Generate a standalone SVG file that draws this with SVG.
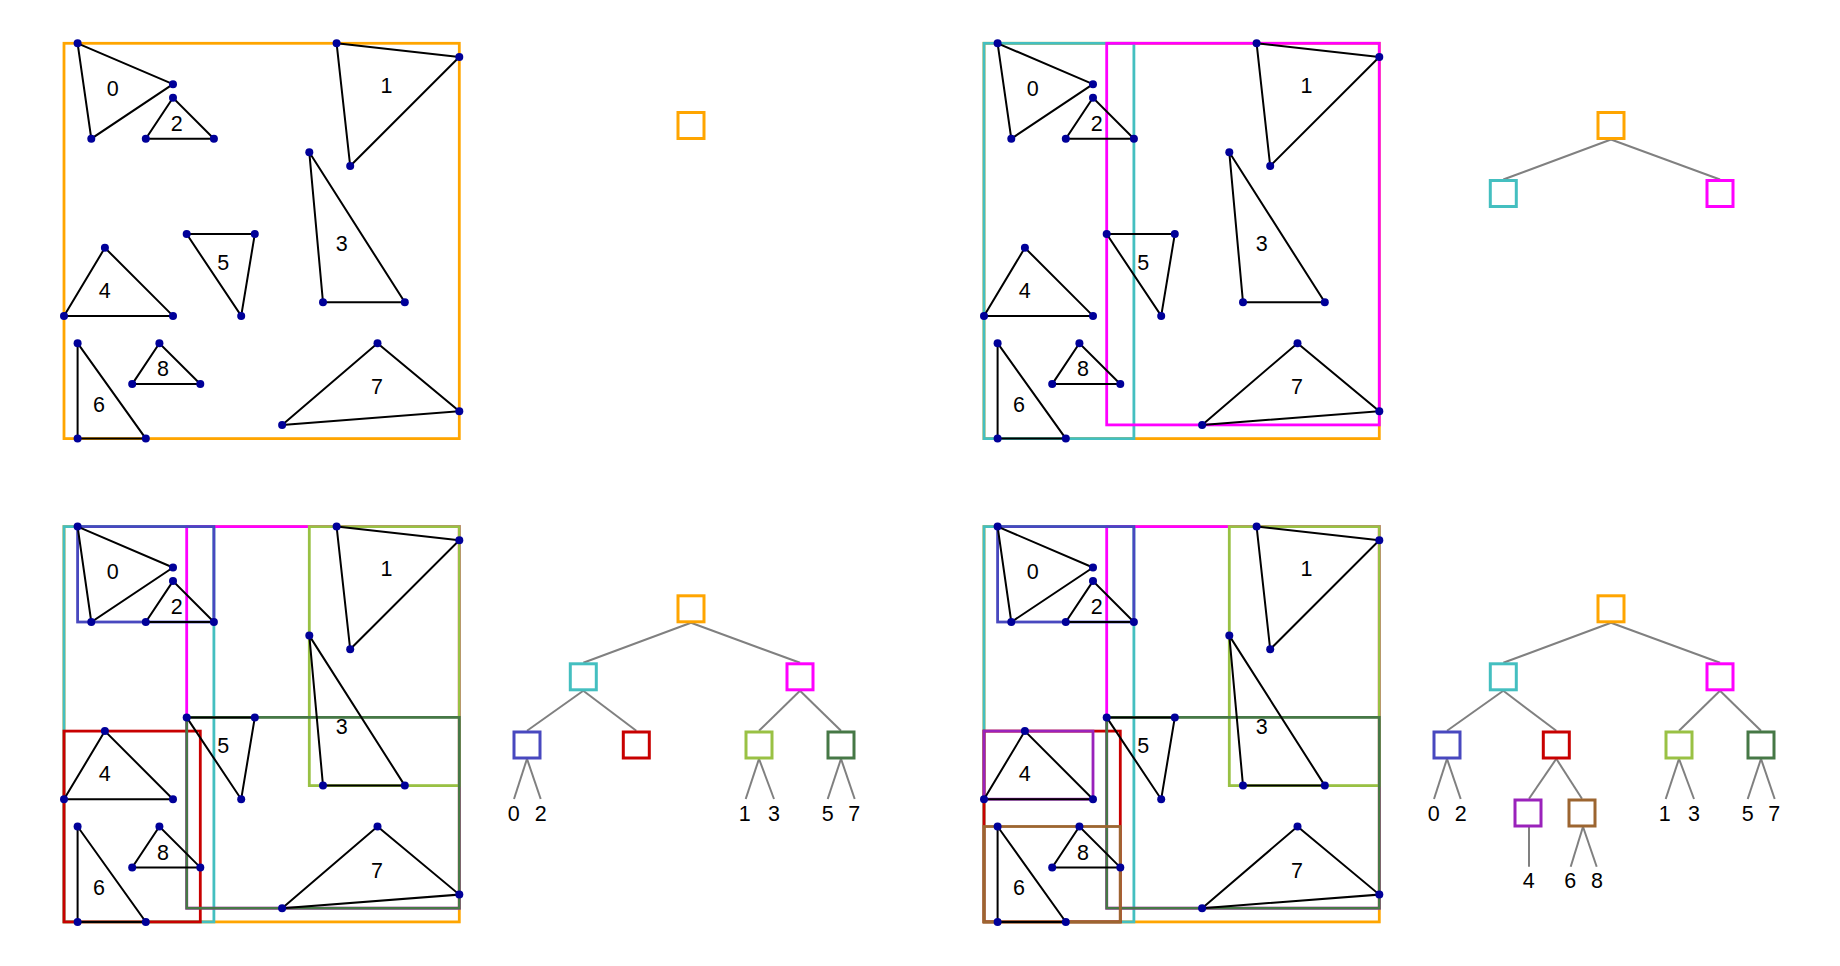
<svg xmlns="http://www.w3.org/2000/svg" width="1840" height="966" viewBox="0 0 1840 966">
<style>
.bx{fill:none;stroke-width:2.8}
.tri{fill:none;stroke:#000;stroke-width:2}
.dot{fill:#000099}
.lbl{font-family:"Liberation Sans",Arial,sans-serif;font-size:21.5px;fill:#000;text-anchor:middle}
.edge{stroke:#808080;stroke-width:2;fill:none}
.nd{fill:#fff;stroke-width:3}
.c-or{stroke:#FFA500}.c-cy{stroke:#44BFC0}.c-mg{stroke:#FF00FF}.c-bl{stroke:#4848BF}.c-rd{stroke:#C80000}.c-lg{stroke:#99C144}.c-dg{stroke:#467846}.c-pu{stroke:#9A22BB}.c-br{stroke:#9C6530}
</style>
<rect x="0" y="0" width="1840" height="966" fill="#fff"/>

<!-- ============ PANEL 1 (top-left) ============ -->
<g id="panel1">
<g id="p1-boxes">
<rect class="bx c-or" x="64" y="43.3" width="395.3" height="395.3"/>
</g>
<g id="p1-shapes">
<polygon class="tri" points="77.6,43.3 173,84.2 91.3,138.7"/>
<polygon class="tri" points="336.6,43.3 459.3,56.9 350.2,166"/>
<polygon class="tri" points="173,97.8 145.8,138.7 213.9,138.7"/>
<polygon class="tri" points="309.3,152.3 323,302.3 404.8,302.3"/>
<polygon class="tri" points="104.9,247.8 64,315.9 173,315.9"/>
<polygon class="tri" points="186.7,234.1 254.8,234.1 241.2,315.9"/>
<polygon class="tri" points="77.6,343.2 77.6,438.6 145.8,438.6"/>
<polygon class="tri" points="377.5,343.2 459.3,411.3 282.1,424.9"/>
<polygon class="tri" points="159.4,343.2 132.2,384.1 200.3,384.1"/>
<circle class="dot" cx="77.6" cy="43.3" r="4"/><circle class="dot" cx="173" cy="84.2" r="4"/><circle class="dot" cx="91.3" cy="138.7" r="4"/>
<circle class="dot" cx="336.6" cy="43.3" r="4"/><circle class="dot" cx="459.3" cy="56.9" r="4"/><circle class="dot" cx="350.2" cy="166" r="4"/>
<circle class="dot" cx="173" cy="97.8" r="4"/><circle class="dot" cx="145.8" cy="138.7" r="4"/><circle class="dot" cx="213.9" cy="138.7" r="4"/>
<circle class="dot" cx="309.3" cy="152.3" r="4"/><circle class="dot" cx="323" cy="302.3" r="4"/><circle class="dot" cx="404.8" cy="302.3" r="4"/>
<circle class="dot" cx="104.9" cy="247.8" r="4"/><circle class="dot" cx="64" cy="315.9" r="4"/><circle class="dot" cx="173" cy="315.9" r="4"/>
<circle class="dot" cx="186.7" cy="234.1" r="4"/><circle class="dot" cx="254.8" cy="234.1" r="4"/><circle class="dot" cx="241.2" cy="315.9" r="4"/>
<circle class="dot" cx="77.6" cy="343.2" r="4"/><circle class="dot" cx="77.6" cy="438.6" r="4"/><circle class="dot" cx="145.8" cy="438.6" r="4"/>
<circle class="dot" cx="377.5" cy="343.2" r="4"/><circle class="dot" cx="459.3" cy="411.3" r="4"/><circle class="dot" cx="282.1" cy="424.9" r="4"/>
<circle class="dot" cx="159.4" cy="343.2" r="4"/><circle class="dot" cx="132.2" cy="384.1" r="4"/><circle class="dot" cx="200.3" cy="384.1" r="4"/>
<text class="lbl" x="112.7" y="96">0</text>
<text class="lbl" x="386.5" y="92.7">1</text>
<text class="lbl" x="176.7" y="131">2</text>
<text class="lbl" x="341.7" y="251">3</text>
<text class="lbl" x="104.7" y="297.7">4</text>
<text class="lbl" x="223.3" y="270">5</text>
<text class="lbl" x="99" y="412">6</text>
<text class="lbl" x="377" y="394.4">7</text>
<text class="lbl" x="163" y="376.4">8</text>
</g>
<g id="p1-tree">
<g id="p1-n-root"><rect class="nd c-or" x="678" y="112.5" width="26" height="26"/></g>
</g>
</g>

<!-- ============ PANEL 2 (top-right) ============ -->
<g id="panel2" transform="translate(920,0)">
<g id="p2-boxes">
<rect class="bx c-or" x="64" y="43.3" width="395.3" height="395.3"/>
<rect class="bx c-cy" x="64" y="43.3" width="149.9" height="395.3"/>
<rect class="bx c-mg" x="186.7" y="43.3" width="272.6" height="381.6"/>
</g>
<g id="p2-shapes">
<polygon class="tri" points="77.6,43.3 173,84.2 91.3,138.7"/>
<polygon class="tri" points="336.6,43.3 459.3,56.9 350.2,166"/>
<polygon class="tri" points="173,97.8 145.8,138.7 213.9,138.7"/>
<polygon class="tri" points="309.3,152.3 323,302.3 404.8,302.3"/>
<polygon class="tri" points="104.9,247.8 64,315.9 173,315.9"/>
<polygon class="tri" points="186.7,234.1 254.8,234.1 241.2,315.9"/>
<polygon class="tri" points="77.6,343.2 77.6,438.6 145.8,438.6"/>
<polygon class="tri" points="377.5,343.2 459.3,411.3 282.1,424.9"/>
<polygon class="tri" points="159.4,343.2 132.2,384.1 200.3,384.1"/>
<circle class="dot" cx="77.6" cy="43.3" r="4"/><circle class="dot" cx="173" cy="84.2" r="4"/><circle class="dot" cx="91.3" cy="138.7" r="4"/>
<circle class="dot" cx="336.6" cy="43.3" r="4"/><circle class="dot" cx="459.3" cy="56.9" r="4"/><circle class="dot" cx="350.2" cy="166" r="4"/>
<circle class="dot" cx="173" cy="97.8" r="4"/><circle class="dot" cx="145.8" cy="138.7" r="4"/><circle class="dot" cx="213.9" cy="138.7" r="4"/>
<circle class="dot" cx="309.3" cy="152.3" r="4"/><circle class="dot" cx="323" cy="302.3" r="4"/><circle class="dot" cx="404.8" cy="302.3" r="4"/>
<circle class="dot" cx="104.9" cy="247.8" r="4"/><circle class="dot" cx="64" cy="315.9" r="4"/><circle class="dot" cx="173" cy="315.9" r="4"/>
<circle class="dot" cx="186.7" cy="234.1" r="4"/><circle class="dot" cx="254.8" cy="234.1" r="4"/><circle class="dot" cx="241.2" cy="315.9" r="4"/>
<circle class="dot" cx="77.6" cy="343.2" r="4"/><circle class="dot" cx="77.6" cy="438.6" r="4"/><circle class="dot" cx="145.8" cy="438.6" r="4"/>
<circle class="dot" cx="377.5" cy="343.2" r="4"/><circle class="dot" cx="459.3" cy="411.3" r="4"/><circle class="dot" cx="282.1" cy="424.9" r="4"/>
<circle class="dot" cx="159.4" cy="343.2" r="4"/><circle class="dot" cx="132.2" cy="384.1" r="4"/><circle class="dot" cx="200.3" cy="384.1" r="4"/>
<text class="lbl" x="112.7" y="96">0</text>
<text class="lbl" x="386.5" y="92.7">1</text>
<text class="lbl" x="176.7" y="131">2</text>
<text class="lbl" x="341.7" y="251">3</text>
<text class="lbl" x="104.7" y="297.7">4</text>
<text class="lbl" x="223.3" y="270">5</text>
<text class="lbl" x="99" y="412">6</text>
<text class="lbl" x="377" y="394.4">7</text>
<text class="lbl" x="163" y="376.4">8</text>
</g>
<g id="p2-tree">
<g id="p2-connectors">
<line class="edge" x1="691" y1="139.5" x2="583.3" y2="179.5"/>
<line class="edge" x1="691" y1="139.5" x2="800" y2="179.5"/>
</g>
<g id="p2-n-root"><rect class="nd c-or" x="678" y="112.5" width="26" height="26"/></g>
<g id="p2-n-cyan"><rect class="nd c-cy" x="570.3" y="180.5" width="26" height="26"/></g>
<g id="p2-n-magenta"><rect class="nd c-mg" x="787" y="180.5" width="26" height="26"/></g>
</g>
</g>

<!-- ============ PANEL 3 (bottom-left) ============ -->
<g id="panel3" transform="translate(0,483.3)">
<g id="p3-boxes">
<rect class="bx c-or" x="64" y="43.3" width="395.3" height="395.3"/>
<rect class="bx c-cy" x="64" y="43.3" width="149.9" height="395.3"/>
<rect class="bx c-mg" x="186.7" y="43.3" width="272.6" height="381.6"/>
<rect class="bx c-bl" x="77.6" y="43.3" width="136.3" height="95.4"/>
<rect class="bx c-rd" x="64" y="247.8" width="136.3" height="190.8"/>
<rect class="bx c-lg" x="309.3" y="43.3" width="150" height="259"/>
<rect class="bx c-dg" x="186.7" y="234.1" width="272.6" height="190.8"/>
</g>
<g id="p3-shapes">
<polygon class="tri" points="77.6,43.3 173,84.2 91.3,138.7"/>
<polygon class="tri" points="336.6,43.3 459.3,56.9 350.2,166"/>
<polygon class="tri" points="173,97.8 145.8,138.7 213.9,138.7"/>
<polygon class="tri" points="309.3,152.3 323,302.3 404.8,302.3"/>
<polygon class="tri" points="104.9,247.8 64,315.9 173,315.9"/>
<polygon class="tri" points="186.7,234.1 254.8,234.1 241.2,315.9"/>
<polygon class="tri" points="77.6,343.2 77.6,438.6 145.8,438.6"/>
<polygon class="tri" points="377.5,343.2 459.3,411.3 282.1,424.9"/>
<polygon class="tri" points="159.4,343.2 132.2,384.1 200.3,384.1"/>
<circle class="dot" cx="77.6" cy="43.3" r="4"/><circle class="dot" cx="173" cy="84.2" r="4"/><circle class="dot" cx="91.3" cy="138.7" r="4"/>
<circle class="dot" cx="336.6" cy="43.3" r="4"/><circle class="dot" cx="459.3" cy="56.9" r="4"/><circle class="dot" cx="350.2" cy="166" r="4"/>
<circle class="dot" cx="173" cy="97.8" r="4"/><circle class="dot" cx="145.8" cy="138.7" r="4"/><circle class="dot" cx="213.9" cy="138.7" r="4"/>
<circle class="dot" cx="309.3" cy="152.3" r="4"/><circle class="dot" cx="323" cy="302.3" r="4"/><circle class="dot" cx="404.8" cy="302.3" r="4"/>
<circle class="dot" cx="104.9" cy="247.8" r="4"/><circle class="dot" cx="64" cy="315.9" r="4"/><circle class="dot" cx="173" cy="315.9" r="4"/>
<circle class="dot" cx="186.7" cy="234.1" r="4"/><circle class="dot" cx="254.8" cy="234.1" r="4"/><circle class="dot" cx="241.2" cy="315.9" r="4"/>
<circle class="dot" cx="77.6" cy="343.2" r="4"/><circle class="dot" cx="77.6" cy="438.6" r="4"/><circle class="dot" cx="145.8" cy="438.6" r="4"/>
<circle class="dot" cx="377.5" cy="343.2" r="4"/><circle class="dot" cx="459.3" cy="411.3" r="4"/><circle class="dot" cx="282.1" cy="424.9" r="4"/>
<circle class="dot" cx="159.4" cy="343.2" r="4"/><circle class="dot" cx="132.2" cy="384.1" r="4"/><circle class="dot" cx="200.3" cy="384.1" r="4"/>
<text class="lbl" x="112.7" y="96">0</text>
<text class="lbl" x="386.5" y="92.7">1</text>
<text class="lbl" x="176.7" y="131">2</text>
<text class="lbl" x="341.7" y="251">3</text>
<text class="lbl" x="104.7" y="297.7">4</text>
<text class="lbl" x="223.3" y="270">5</text>
<text class="lbl" x="99" y="412">6</text>
<text class="lbl" x="377" y="394.4">7</text>
<text class="lbl" x="163" y="376.4">8</text>
</g>
<g id="p3-tree">
<g id="p3-connectors">
<line class="edge" x1="691" y1="139.5" x2="583.3" y2="179.5"/>
<line class="edge" x1="691" y1="139.5" x2="800" y2="179.5"/>
<line class="edge" x1="583.3" y1="207.5" x2="527" y2="247.5"/>
<line class="edge" x1="583.3" y1="207.5" x2="636.3" y2="247.5"/>
<line class="edge" x1="800" y1="207.5" x2="759" y2="247.5"/>
<line class="edge" x1="800" y1="207.5" x2="841" y2="247.5"/>
<line class="edge" x1="527" y1="275.5" x2="514" y2="315.7"/>
<line class="edge" x1="527" y1="275.5" x2="540.7" y2="315.7"/>
<line class="edge" x1="759" y1="275.5" x2="745.7" y2="315.7"/>
<line class="edge" x1="759" y1="275.5" x2="774" y2="315.7"/>
<line class="edge" x1="841" y1="275.5" x2="827.7" y2="315.7"/>
<line class="edge" x1="841" y1="275.5" x2="854.7" y2="315.7"/>
</g>
<g id="p3-n-root"><rect class="nd c-or" x="678" y="112.5" width="26" height="26"/></g>
<g id="p3-n-cyan"><rect class="nd c-cy" x="570.3" y="180.5" width="26" height="26"/></g>
<g id="p3-n-magenta"><rect class="nd c-mg" x="787" y="180.5" width="26" height="26"/></g>
<g id="p3-n-blue"><rect class="nd c-bl" x="514" y="248.7" width="26" height="26"/></g>
<g id="p3-n-red"><rect class="nd c-rd" x="623.3" y="248.7" width="26" height="26"/></g>
<g id="p3-n-lgreen"><rect class="nd c-lg" x="746" y="248.7" width="26" height="26"/></g>
<g id="p3-n-dgreen"><rect class="nd c-dg" x="828" y="248.7" width="26" height="26"/></g>
<g id="p3-leaves">
<text class="lbl" x="513.7" y="337.7">0</text>
<text class="lbl" x="540.7" y="337.7">2</text>
<text class="lbl" x="744.8" y="337.7">1</text>
<text class="lbl" x="774" y="337.7">3</text>
<text class="lbl" x="827.7" y="337.7">5</text>
<text class="lbl" x="854.3" y="337.7">7</text>
</g>
</g>
</g>

<!-- ============ PANEL 4 (bottom-right) ============ -->
<g id="panel4" transform="translate(920,483.3)">
<g id="p4-boxes">
<rect class="bx c-or" x="64" y="43.3" width="395.3" height="395.3"/>
<rect class="bx c-cy" x="64" y="43.3" width="149.9" height="395.3"/>
<rect class="bx c-mg" x="186.7" y="43.3" width="272.6" height="381.6"/>
<rect class="bx c-bl" x="77.6" y="43.3" width="136.3" height="95.4"/>
<rect class="bx c-rd" x="64" y="247.8" width="136.3" height="190.8"/>
<rect class="bx c-lg" x="309.3" y="43.3" width="150" height="259"/>
<rect class="bx c-dg" x="186.7" y="234.1" width="272.6" height="190.8"/>
<rect class="bx c-pu" x="64" y="247.8" width="109" height="68.1"/>
<rect class="bx c-br" x="64" y="343.2" width="136.3" height="95.4"/>
</g>
<g id="p4-shapes">
<polygon class="tri" points="77.6,43.3 173,84.2 91.3,138.7"/>
<polygon class="tri" points="336.6,43.3 459.3,56.9 350.2,166"/>
<polygon class="tri" points="173,97.8 145.8,138.7 213.9,138.7"/>
<polygon class="tri" points="309.3,152.3 323,302.3 404.8,302.3"/>
<polygon class="tri" points="104.9,247.8 64,315.9 173,315.9"/>
<polygon class="tri" points="186.7,234.1 254.8,234.1 241.2,315.9"/>
<polygon class="tri" points="77.6,343.2 77.6,438.6 145.8,438.6"/>
<polygon class="tri" points="377.5,343.2 459.3,411.3 282.1,424.9"/>
<polygon class="tri" points="159.4,343.2 132.2,384.1 200.3,384.1"/>
<circle class="dot" cx="77.6" cy="43.3" r="4"/><circle class="dot" cx="173" cy="84.2" r="4"/><circle class="dot" cx="91.3" cy="138.7" r="4"/>
<circle class="dot" cx="336.6" cy="43.3" r="4"/><circle class="dot" cx="459.3" cy="56.9" r="4"/><circle class="dot" cx="350.2" cy="166" r="4"/>
<circle class="dot" cx="173" cy="97.8" r="4"/><circle class="dot" cx="145.8" cy="138.7" r="4"/><circle class="dot" cx="213.9" cy="138.7" r="4"/>
<circle class="dot" cx="309.3" cy="152.3" r="4"/><circle class="dot" cx="323" cy="302.3" r="4"/><circle class="dot" cx="404.8" cy="302.3" r="4"/>
<circle class="dot" cx="104.9" cy="247.8" r="4"/><circle class="dot" cx="64" cy="315.9" r="4"/><circle class="dot" cx="173" cy="315.9" r="4"/>
<circle class="dot" cx="186.7" cy="234.1" r="4"/><circle class="dot" cx="254.8" cy="234.1" r="4"/><circle class="dot" cx="241.2" cy="315.9" r="4"/>
<circle class="dot" cx="77.6" cy="343.2" r="4"/><circle class="dot" cx="77.6" cy="438.6" r="4"/><circle class="dot" cx="145.8" cy="438.6" r="4"/>
<circle class="dot" cx="377.5" cy="343.2" r="4"/><circle class="dot" cx="459.3" cy="411.3" r="4"/><circle class="dot" cx="282.1" cy="424.9" r="4"/>
<circle class="dot" cx="159.4" cy="343.2" r="4"/><circle class="dot" cx="132.2" cy="384.1" r="4"/><circle class="dot" cx="200.3" cy="384.1" r="4"/>
<text class="lbl" x="112.7" y="96">0</text>
<text class="lbl" x="386.5" y="92.7">1</text>
<text class="lbl" x="176.7" y="131">2</text>
<text class="lbl" x="341.7" y="251">3</text>
<text class="lbl" x="104.7" y="297.7">4</text>
<text class="lbl" x="223.3" y="270">5</text>
<text class="lbl" x="99" y="412">6</text>
<text class="lbl" x="377" y="394.4">7</text>
<text class="lbl" x="163" y="376.4">8</text>
</g>
<g id="p4-tree">
<g id="p4-connectors">
<line class="edge" x1="691" y1="139.5" x2="583.3" y2="179.5"/>
<line class="edge" x1="691" y1="139.5" x2="800" y2="179.5"/>
<line class="edge" x1="583.3" y1="207.5" x2="527" y2="247.5"/>
<line class="edge" x1="583.3" y1="207.5" x2="636.3" y2="247.5"/>
<line class="edge" x1="800" y1="207.5" x2="759" y2="247.5"/>
<line class="edge" x1="800" y1="207.5" x2="841" y2="247.5"/>
<line class="edge" x1="527" y1="275.5" x2="514" y2="315.7"/>
<line class="edge" x1="527" y1="275.5" x2="540.7" y2="315.7"/>
<line class="edge" x1="636.3" y1="275.5" x2="609" y2="315.5"/>
<line class="edge" x1="636.3" y1="275.5" x2="662" y2="315.5"/>
<line class="edge" x1="759" y1="275.5" x2="745.7" y2="315.7"/>
<line class="edge" x1="759" y1="275.5" x2="774" y2="315.7"/>
<line class="edge" x1="841" y1="275.5" x2="827.7" y2="315.7"/>
<line class="edge" x1="841" y1="275.5" x2="854.7" y2="315.7"/>
<line class="edge" x1="609" y1="343.5" x2="609" y2="383.4"/>
<line class="edge" x1="663" y1="343.5" x2="650.7" y2="383.4"/>
<line class="edge" x1="663" y1="343.5" x2="676.7" y2="383.4"/>
</g>
<g id="p4-n-root"><rect class="nd c-or" x="678" y="112.5" width="26" height="26"/></g>
<g id="p4-n-cyan"><rect class="nd c-cy" x="570.3" y="180.5" width="26" height="26"/></g>
<g id="p4-n-magenta"><rect class="nd c-mg" x="787" y="180.5" width="26" height="26"/></g>
<g id="p4-n-blue"><rect class="nd c-bl" x="514" y="248.7" width="26" height="26"/></g>
<g id="p4-n-red"><rect class="nd c-rd" x="623.3" y="248.7" width="26" height="26"/></g>
<g id="p4-n-lgreen"><rect class="nd c-lg" x="746" y="248.7" width="26" height="26"/></g>
<g id="p4-n-dgreen"><rect class="nd c-dg" x="828" y="248.7" width="26" height="26"/></g>
<g id="p4-n-purple"><rect class="nd c-pu" x="595" y="316.7" width="26" height="26"/></g>
<g id="p4-n-brown"><rect class="nd c-br" x="649" y="316.7" width="26" height="26"/></g>
<g id="p4-leaves">
<text class="lbl" x="513.7" y="337.7">0</text>
<text class="lbl" x="540.7" y="337.7">2</text>
<text class="lbl" x="744.8" y="337.7">1</text>
<text class="lbl" x="774" y="337.7">3</text>
<text class="lbl" x="827.7" y="337.7">5</text>
<text class="lbl" x="854.3" y="337.7">7</text>
<text class="lbl" x="608.7" y="405.2">4</text>
<text class="lbl" x="650.3" y="405.2">6</text>
<text class="lbl" x="677" y="405.2">8</text>
</g>
</g>
</g>
</svg>
